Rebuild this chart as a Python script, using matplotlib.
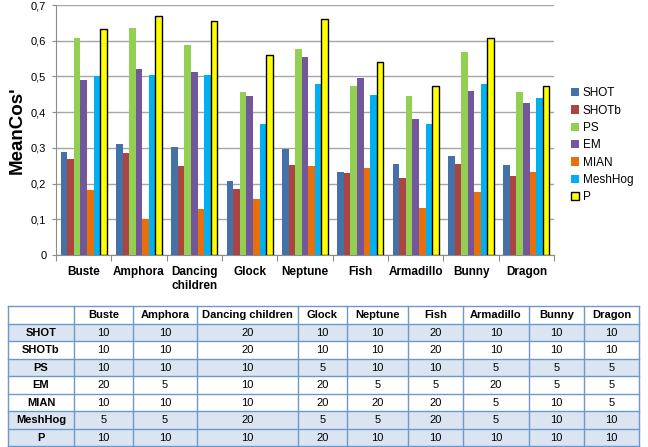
import matplotlib
matplotlib.use("Agg")
import matplotlib.pyplot as plt
import matplotlib.patches as mpatches
import numpy as np

plt.rcParams.update({
    "font.family": ["Liberation Sans", "DejaVu Sans"],
    "font.size": 8,
})

# ── Data ─────────────────────────────────────────────────────────────────────
models = ["Buste", "Amphora", "Dancing\nchildren", "Glock", "Neptune",
          "Fish", "Armadillo", "Bunny", "Dragon"]
table_models = ["Buste", "Amphora", "Dancing children", "Glock", "Neptune",
                "Fish", "Armadillo", "Bunny", "Dragon"]
methods = ["SHOT", "SHOTb", "PS", "EM", "MIAN", "MeshHog", "P"]

shot    = [0.288, 0.311, 0.302, 0.207, 0.297, 0.233, 0.254, 0.277, 0.251]
shotb   = [0.268, 0.285, 0.250, 0.186, 0.253, 0.230, 0.216, 0.255, 0.222]
ps      = [0.607, 0.635, 0.588, 0.456, 0.576, 0.473, 0.445, 0.568, 0.456]
em      = [0.490, 0.520, 0.512, 0.445, 0.554, 0.497, 0.380, 0.460, 0.425]
mian    = [0.182, 0.100, 0.130, 0.158, 0.249, 0.245, 0.132, 0.177, 0.232]
meshhog = [0.500, 0.505, 0.503, 0.366, 0.480, 0.447, 0.367, 0.480, 0.440]
p_vals  = [0.634, 0.669, 0.655, 0.561, 0.662, 0.540, 0.473, 0.608, 0.473]
series = [shot, shotb, ps, em, mian, meshhog, p_vals]

# neighbourhood size used per method and model
nb_shot    = [10, 10, 20, 10, 10, 20, 10, 10, 10]
nb_shotb   = [10, 10, 20, 10, 10, 20, 10, 10, 10]
nb_ps      = [10, 10, 10, 5, 10, 10, 5, 5, 5]
nb_em      = [20, 5, 10, 20, 5, 5, 20, 5, 5]
nb_mian    = [10, 10, 10, 20, 20, 20, 5, 10, 5]
nb_meshhog = [5, 5, 20, 5, 5, 20, 5, 10, 10]
nb_p       = [10, 10, 10, 20, 10, 10, 10, 10, 10]
nb_rows = [nb_shot, nb_shotb, nb_ps, nb_em, nb_mian, nb_meshhog, nb_p]

colors = ["#4472a8", "#aa4542", "#92cf52", "#72589a", "#e7700d", "#00b0f0", "#ffff00"]

# ── Figure ───────────────────────────────────────────────────────────────────
fig = plt.figure(figsize=(6.48, 4.47), dpi=100)
ax = fig.add_axes([0.0864, 0.4295, 0.7686, 0.5593])

x = np.arange(len(models))
bw = 0.119
offsets = (np.arange(len(methods)) - 3) * bw
for vals, name, c, off in zip(series, methods, colors, offsets):
    if name == "P":
        ax.bar(x + off, vals, bw, color=c, edgecolor="black", linewidth=1.0,
               label=name, zorder=3)
    else:
        ax.bar(x + off, vals, bw, color=c, edgecolor="none", label=name, zorder=3)

ax.set_xlim(-0.5, len(models) - 0.5)
ax.set_ylim(0, 0.7)
yt = np.arange(0, 0.71, 0.1)
ax.set_yticks(yt)
ax.set_yticklabels(["0"] + [f"{v:.1f}".replace(".", ",") for v in yt[1:]],
                   fontsize=8)
ax.yaxis.grid(True, color="#a6a6a6", linewidth=1.0, zorder=0)
ax.set_axisbelow(True)

ax.set_xticks(np.arange(len(models) + 1) - 0.5)
ax.set_xticklabels([])
ax.set_xticks(x, minor=True)
ax.set_xticklabels(models, minor=True, fontsize=8.5, fontweight="bold")
ax.tick_params(axis="x", which="minor", length=0, pad=8)
ax.tick_params(axis="x", which="major", length=4, color="#8c8c8c", direction="out")
ax.tick_params(axis="y", length=3, color="#8c8c8c", pad=4)

for s in ["top", "right"]:
    ax.spines[s].set_visible(False)
for s in ["left", "bottom"]:
    ax.spines[s].set_color("#8c8c8c")

ax.set_ylabel("MeanCos'", fontsize=13.5, fontweight="bold", labelpad=4)

handles = [mpatches.Patch(facecolor=c, edgecolor="black" if m == "P" else "none",
                          linewidth=1.0, label=m)
           for m, c in zip(methods, colors)]
fig.legend(handles=handles, loc="center left", bbox_to_anchor=(0.865, 0.675),
           frameon=False, fontsize=8.5, handlelength=0.7, handleheight=0.7,
           handletextpad=0.3, labelspacing=0.45)

# ── Table ────────────────────────────────────────────────────────────────────
tax = fig.add_axes([0.0123, 0.0022, 0.9738, 0.3132])
tax.set_axis_off()
col_w = [66, 59, 64, 101, 49, 61, 55, 66, 55, 55]
edges = np.concatenate([[0], np.cumsum(col_w)]) / sum(col_w)
n_rows = len(methods) + 1
row_h = 1.0 / n_rows
row_fill = ["white", "#dbe5f1", "white", "#dbe5f1", "white", "white", "#dbe5f1", "#dbe5f1"]
border = "#6e97cc"

tax.set_xlim(0, 1)
tax.set_ylim(0, 1)
for r in range(n_rows):
    y0 = 1 - (r + 1) * row_h
    tax.add_patch(mpatches.Rectangle((0, y0), 1, row_h, facecolor=row_fill[r],
                                     edgecolor="none"))
    if r == 0:
        cells = [""] + table_models
    else:
        cells = [methods[r - 1]] + [str(v) for v in nb_rows[r - 1]]
    for ci, txt in enumerate(cells):
        bold = (r == 0) or (ci == 0)
        tax.text((edges[ci] + edges[ci + 1]) / 2, y0 + row_h / 2 - 0.005, txt,
                 ha="center", va="center", fontsize=8,
                 fontweight="bold" if bold else "normal")
for yy in np.linspace(0, 1, n_rows + 1):
    tax.plot([0, 1], [yy, yy], color=border, linewidth=1.0, clip_on=False)
for xx in edges:
    tax.plot([xx, xx], [0, 1], color=border, linewidth=1.0, clip_on=False)

fig.savefig("out.png", dpi=100, facecolor="white")
plt.close(fig)
